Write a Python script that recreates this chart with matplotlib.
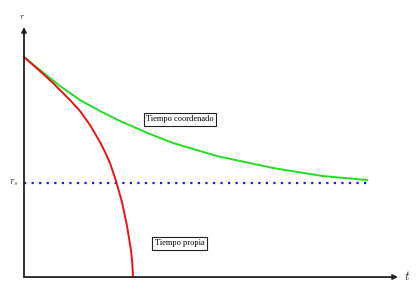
import matplotlib
matplotlib.use('Agg')
import matplotlib.pyplot as plt

plt.rcParams['mathtext.fontset'] = 'cm'

# coordinate time: r approaches r_s asymptotically
t_coord = [0.0, 0.16, 0.36, 0.56, 0.76, 0.96, 1.26, 1.49, 1.93, 2.49, 2.99, 3.43]
r_coord = [2.340, 2.202, 2.032, 1.883, 1.766, 1.660, 1.521, 1.426, 1.287, 1.160, 1.074, 1.032]

# proper time: r reaches zero in finite time
t_prop = [0.0, 0.16, 0.29, 0.36, 0.46, 0.56, 0.66, 0.76, 0.81, 0.86, 0.92, 0.98, 1.03, 1.07, 1.082, 1.09]
r_prop = [2.340, 2.191, 2.064, 1.989, 1.883, 1.766, 1.617, 1.436, 1.330, 1.213, 1.021, 0.798, 0.543, 0.287, 0.160, 0.0]

r_s = 1.0
t_end = 3.43

fig = plt.figure(figsize=(4.2, 2.95), dpi=100)
ax = fig.add_axes([0, 0, 1, 1])
ax.set_xlim(-0.24, 3.96)
ax.set_ylim(-0.191, 2.947)
ax.axis('off')

# axes with arrows
arrow = dict(arrowstyle='-|>', color='#222222', lw=1.3, mutation_scale=7, shrinkA=0, shrinkB=0)
ax.annotate('', xy=(0, 2.66), xytext=(0, 0), arrowprops=arrow)
ax.annotate('', xy=(3.74, 0), xytext=(0, 0), arrowprops=arrow)

ax.plot([0, t_end], [r_s, r_s], color='#1a1aee', lw=1.6, linestyle=(0, (1, 2.4)))
ax.plot(t_coord, r_coord, color='#22dd22', lw=1.4, solid_joinstyle='round')
ax.plot(t_prop, r_prop, color='#ee1111', lw=1.4, solid_joinstyle='round')

ax.text(-0.02, 2.78, '$r$', fontsize=7, ha='center', va='center', color='#333333')
ax.text(3.83, 0.01, '$t$', fontsize=10, ha='center', va='center', color='#333333')
ax.text(-0.10, 1.0, '$r_s$', fontsize=7.5, ha='center', va='center', color='#333333')

box = dict(boxstyle='square,pad=0.3', fc='white', ec='#222222', lw=0.8)
ax.text(1.56, 1.676, 'Tiempo coordenado', fontsize=6, family='Liberation Serif',
        ha='center', va='center', bbox=box)
ax.text(1.555, 0.362, 'Tiempo propia', fontsize=6, family='Liberation Serif',
        ha='center', va='center', bbox=box)

fig.savefig('out.png', dpi=100)
